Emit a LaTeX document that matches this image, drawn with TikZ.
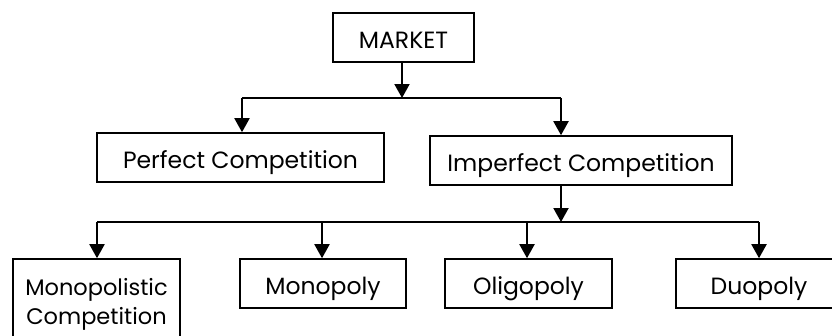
\documentclass[tikz,border=0pt]{standalone}
\usepackage{fontspec}
\setmainfont{Poppins}
\usetikzlibrary{arrows.meta,calc}
\tikzset{
  box/.style={draw=black, line width=1.6pt, inner sep=0pt, align=center, font=\fontsize{23.5}{29}\selectfont},
  one/.style={text height=21pt, text depth=0pt},
  ln/.style={line width=2pt},
  arr/.style={line width=2pt, -{Triangle[width=15pt,length=14pt]}},
}
\begin{document}
\begin{tikzpicture}[x=1pt,y=-1pt]
\useasboundingbox (0,0) rectangle (832,335);
\clip (0,0) rectangle (832,335);
\node[box, one, minimum width=141pt, minimum height=49pt] (m) at (403.5,37.5) {MARKET};
\node[box, one, minimum width=287pt, minimum height=49pt] (pc) at (240.5,157.5) {Perfect Competition};
\node[box, one, minimum width=302pt, minimum height=49pt] (ic) at (581,160.5) {Imperfect Competition};
\node[box, minimum width=167pt, minimum height=90pt, font=\fontsize{22.5}{29}\selectfont] (mc) at (96.5,304) {Monopolistic\\Competition};
\node[box, one, minimum width=166pt, minimum height=49pt] (mo) at (323,283.5) {Monopoly};
\node[box, one, minimum width=167pt, minimum height=49pt] (ol) at (528.5,283.5) {Oligopoly};
\node[box, one, minimum width=166pt, minimum height=49pt] (du) at (759,283.5) {Duopoly};
\coordinate (h1m) at (402,98);
\coordinate (h1l) at (242,98);
\coordinate (h1r) at (561,98);
\coordinate (h2m) at (561,222);
\coordinate (h2l) at (97,222);
\coordinate (h2r) at (759,222);
\coordinate (a2) at (322,222);
\coordinate (a3) at (527,222);
\draw[arr] (m.south -| h1m) -- (h1m);
\draw[ln] (h1l) -- (h1r);
\draw[arr] (h1l) -- (h1l |- pc.north);
\draw[arr] (h1r) -- (h1r |- ic.north);
\draw[arr] (h1r |- ic.south) -- (h2m);
\draw[ln] (h2l) -- (h2r);
\draw[arr] (h2l) -- (h2l |- mc.north);
\draw[arr] (a2) -- (a2 |- mo.north);
\draw[arr] (a3) -- (a3 |- ol.north);
\draw[arr] (h2r) -- (h2r |- du.north);
\end{tikzpicture}
\end{document}
